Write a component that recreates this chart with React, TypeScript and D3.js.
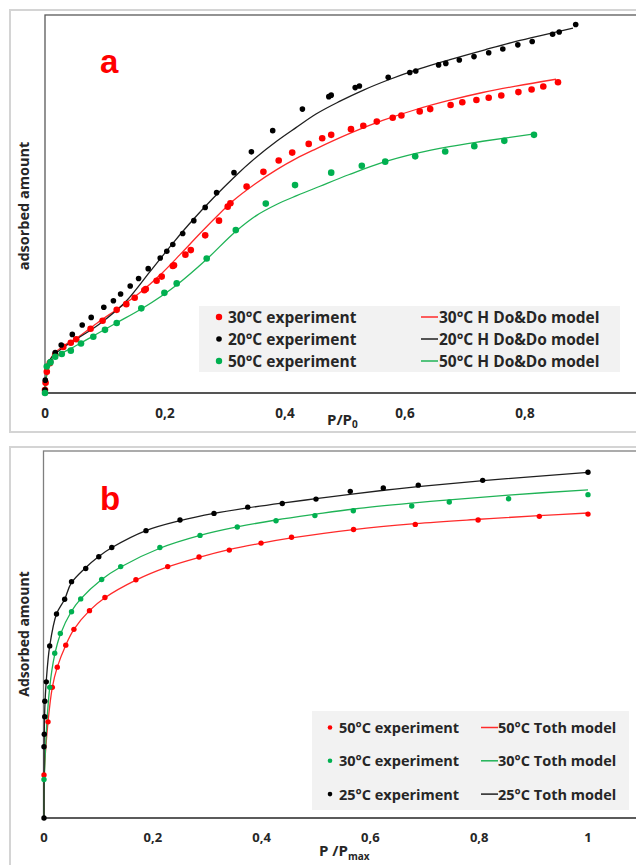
import React from 'react';
import * as d3 from 'd3';

type Pt = [number, number];

// ---------- Panel a data (P/P0 vs adsorbed amount, arbitrary units) ----------
const xTicksA = [0, 0.2, 0.4, 0.6, 0.8];

const exp30A: Pt[] = [
  [0, 0.08], [0.001, 0.27], [0.003, 0.56], [0.008, 0.79], [0.017, 1.01], [0.0305, 1.22],
  [0.043, 1.33], [0.052, 1.42], [0.076, 1.70], [0.096, 1.91], [0.1195, 2.20], [0.1355, 2.35],
  [0.1495, 2.52], [0.1655, 2.72], [0.168, 2.75], [0.186, 2.97], [0.1945, 3.08], [0.213, 3.36],
  [0.215, 3.38], [0.234, 3.66], [0.243, 3.78], [0.267, 4.17], [0.29, 4.56], [0.3045, 4.93],
  [0.309, 5.02], [0.336, 5.46], [0.364, 5.85], [0.3895, 6.15], [0.412, 6.36], [0.4395, 6.59],
  [0.462, 6.74], [0.477, 6.83], [0.51, 6.98], [0.5305, 7.07], [0.553, 7.18], [0.5795, 7.28],
  [0.594, 7.34], [0.6245, 7.45], [0.642, 7.51], [0.676, 7.62], [0.6955, 7.69], [0.719, 7.75],
  [0.7395, 7.81], [0.7605, 7.87], [0.789, 7.96], [0.811, 8.03], [0.8305, 8.11], [0.855, 8.22],
];

const exp20A: Pt[] = [
  [0, 0.08], [0.0005, 0.34], [0.0095, 0.83], [0.017, 1.07], [0.027, 1.27], [0.0455, 1.55],
  [0.062, 1.80], [0.077, 2.00], [0.098, 2.27], [0.114, 2.44], [0.126, 2.62], [0.142, 2.83],
  [0.156, 3.03], [0.172, 3.29], [0.192, 3.57], [0.203, 3.75], [0.213, 3.93], [0.2295, 4.22],
  [0.248, 4.56], [0.267, 4.91], [0.286, 5.30], [0.315, 5.83], [0.344, 6.38], [0.3795, 6.94],
  [0.429, 7.51], [0.473, 7.84], [0.477, 7.88], [0.517, 8.08], [0.524, 8.12], [0.572, 8.35],
  [0.608, 8.48], [0.618, 8.52], [0.656, 8.68], [0.668, 8.72], [0.6905, 8.81], [0.715, 8.90],
  [0.7395, 9.00], [0.763, 9.10], [0.788, 9.21], [0.812, 9.30], [0.846, 9.49], [0.857, 9.55],
  [0.8845, 9.75],
];

const exp50A: Pt[] = [
  [0, 0.0], [0.003, 0.70], [0.009, 0.81], [0.017, 0.96], [0.028, 1.03], [0.043, 1.12],
  [0.06, 1.31], [0.0805, 1.49], [0.1, 1.67], [0.1195, 1.85], [0.1605, 2.24], [0.199, 2.65],
  [0.2195, 2.90], [0.2695, 3.56], [0.318, 4.31], [0.368, 5.01], [0.4167, 5.50], [0.477, 5.83],
  [0.528, 6.01], [0.567, 6.12], [0.617, 6.26], [0.667, 6.39], [0.7155, 6.53], [0.7655, 6.67],
  [0.815, 6.83],
];

const model30A: Pt[] = [
  [0, 0.03], [0.003, 0.52], [0.008, 0.87], [0.025, 1.18], [0.053, 1.45], [0.086, 1.84],
  [0.125, 2.27], [0.158, 2.65], [0.1917, 3.12], [0.225, 3.66], [0.2583, 4.22], [0.2862, 4.67],
  [0.314, 5.09], [0.35, 5.53], [0.3862, 5.91], [0.4183, 6.2], [0.4517, 6.46], [0.51, 6.88],
  [0.5628, 7.21], [0.6183, 7.5], [0.6733, 7.74], [0.7295, 7.95], [0.785, 8.12], [0.8517, 8.3],
];

const model20A: Pt[] = [
  [0, 0.03], [0.003, 0.53], [0.008, 0.87], [0.025, 1.14], [0.053, 1.43], [0.092, 1.84],
  [0.136, 2.44], [0.175, 3.21], [0.214, 3.98], [0.247, 4.59], [0.2805, 5.16], [0.314, 5.69],
  [0.3517, 6.23], [0.386, 6.66], [0.4183, 7.02], [0.4517, 7.38], [0.4917, 7.72], [0.5317, 8.02],
  [0.5717, 8.28], [0.625, 8.58], [0.675, 8.82], [0.7333, 9.08], [0.785, 9.30], [0.8333, 9.48],
  [0.88, 9.65],
];

const model50A: Pt[] = [
  [0, 0.03], [0.003, 0.53], [0.008, 0.87], [0.028, 1.05], [0.0583, 1.31], [0.0805, 1.51],
  [0.1195, 1.86], [0.1612, 2.23], [0.2195, 2.86], [0.2695, 3.54], [0.3183, 4.28], [0.3528, 4.7],
  [0.385, 4.98], [0.4195, 5.22], [0.4583, 5.47], [0.5072, 5.78], [0.5628, 6.1], [0.6183, 6.34],
  [0.674, 6.52], [0.7295, 6.66], [0.8128, 6.85],
];

// ---------- Panel b data (P/Pmax vs adsorbed amount, arbitrary units) ----------
const xTicksB = [0, 0.2, 0.4, 0.6, 0.8, 1];

const exp50B: Pt[] = [
  [0, 1.17], [0.0074, 2.62], [0.0153, 3.56], [0.0244, 4.11], [0.04, 4.71], [0.055, 5.14],
  [0.0836, 5.65], [0.112, 6.01], [0.169, 6.49], [0.2274, 6.85], [0.285, 7.11], [0.3406, 7.30],
  [0.399, 7.49], [0.455, 7.65], [0.569, 7.86], [0.6825, 8.00], [0.798, 8.12], [0.9105, 8.22],
  [1.0, 8.28],
];

const exp30B: Pt[] = [
  [0, 1.05], [0.0105, 3.56], [0.0197, 4.49], [0.03, 5.03], [0.0506, 5.62], [0.0675, 5.97],
  [0.106, 6.50], [0.141, 6.85], [0.213, 7.37], [0.2868, 7.70], [0.3553, 7.93], [0.4265, 8.10],
  [0.498, 8.24], [0.5686, 8.37], [0.676, 8.50], [0.745, 8.61], [0.854, 8.70], [1.0, 8.81],
];

const exp25B: Pt[] = [
  [0, 0], [0.0, 1.94], [0.0005, 2.28], [0.0013, 2.76], [0.0015, 3.18], [0.0042, 3.71],
  [0.0105, 4.69], [0.023, 5.56], [0.038, 5.96], [0.0506, 6.44], [0.0767, 6.80], [0.1007, 7.12],
  [0.1246, 7.37], [0.1875, 7.83], [0.25, 8.12], [0.3125, 8.30], [0.3745, 8.47], [0.438, 8.57],
  [0.5, 8.69], [0.563, 8.90], [0.6237, 8.99], [0.688, 9.07], [0.8064, 9.20], [1.0, 9.42],
];

const model50B: Pt[] = [
  [0, 0], [0.0005, 1.2], [0.0074, 2.62], [0.0153, 3.56], [0.0244, 4.11], [0.04, 4.71],
  [0.055, 5.14], [0.0836, 5.65], [0.112, 6.0], [0.169, 6.48], [0.2274, 6.84], [0.285, 7.1],
  [0.34, 7.31], [0.4, 7.49], [0.455, 7.63], [0.569, 7.86], [0.6825, 8.02], [0.8, 8.14],
  [0.91, 8.24], [1.0, 8.31],
];

const model30B: Pt[] = [
  [0, 0], [0.0005, 1.05], [0.0105, 3.56], [0.0197, 4.45], [0.03, 5.0], [0.05, 5.62],
  [0.0675, 5.97], [0.106, 6.5], [0.141, 6.84], [0.213, 7.35], [0.287, 7.7], [0.355, 7.93],
  [0.4265, 8.12], [0.5, 8.28], [0.57, 8.42], [0.676, 8.58], [0.745, 8.67], [0.854, 8.8],
  [1.0, 8.94],
];

const model25B: Pt[] = [
  [0, 0], [0.0003, 2.0], [0.0015, 3.0], [0.004, 3.7], [0.0105, 4.69], [0.023, 5.56],
  [0.038, 5.96], [0.05, 6.4], [0.075, 6.8], [0.1, 7.12], [0.125, 7.37], [0.1875, 7.83],
  [0.25, 8.1], [0.3125, 8.3], [0.375, 8.45], [0.4375, 8.58], [0.5, 8.7], [0.5625, 8.82],
  [0.625, 8.93], [0.6875, 9.03], [0.8125, 9.2], [1.0, 9.42],
];

const RED = '#FF0000';
const BLACK = '#000000';
const GREEN = '#00B050';
const RED_L = '#FF2A2A';
const BLACK_L = '#1F1F1F';
const GREEN_L = '#1FB356';

const fmt = (d: number) => (d === 0 ? '0' : String(d).replace('.', ','));

export default function App() {
  const W = 636;
  const H = 865;
  const font = "'Open Sans', 'DejaVu Sans', sans-serif";
  const tick = '#262626';

  const xA = d3.scaleLinear().domain([0, 1]).range([45, 645]);
  const yA = d3.scaleLinear().domain([0, 10]).range([393, 15]);
  const xB = d3.scaleLinear().domain([0, 1]).range([44, 588]);
  const yB = d3.scaleLinear().domain([0, 10]).range([818, 451]);

  const lineA = d3.line<Pt>().x((d) => xA(d[0])).y((d) => yA(d[1])).curve(d3.curveMonotoneX);
  const lineB = d3.line<Pt>().x((d) => xB(d[0])).y((d) => yB(d[1])).curve(d3.curveCatmullRom.alpha(0.5));

  const legA = [
    { exp: '30°C experiment', mod: '30°C H Do&Do model', c: RED, lc: RED_L, r: 3.2 },
    { exp: '20°C experiment', mod: '20°C H Do&Do model', c: BLACK, lc: BLACK_L, r: 2.8 },
    { exp: '50°C experiment', mod: '50°C H Do&Do model', c: GREEN, lc: GREEN_L, r: 3.2 },
  ];
  const legB = [
    { exp: '50°C experiment', mod: '50°C Toth model', c: RED, lc: RED_L },
    { exp: '30°C experiment', mod: '30°C Toth model', c: GREEN, lc: GREEN_L },
    { exp: '25°C experiment', mod: '25°C Toth model', c: BLACK, lc: BLACK_L },
  ];

  return (
    <svg width={W} height={H} style={{ position: 'absolute', left: 0, top: 0, background: '#fff' }} fontFamily={font}>
      <rect x={0} y={0} width={W} height={H} fill="#fff" />

      {/* ================= Panel a ================= */}
      <rect x={10} y={10} width={700} height={422} fill="#fff" stroke="#D4D4D4" strokeWidth={2} />
      <rect x={45} y={15} width={700} height={378} fill="none" stroke="#595959" strokeWidth={1.3} />
      <line x1={45} x2={700} y1={393} y2={393} stroke="#404040" strokeWidth={1.5} />

      {xTicksA.map((t) => (
        <text key={'ta' + t} x={xA(t)} y={418} textAnchor="middle" fontSize={13.5} fontWeight={700} fill={tick}>
          {fmt(t)}
        </text>
      ))}
      <text x={327} y={425} fontSize={15} fontWeight={700} fill={tick}>
        P/P<tspan fontSize={10} dy={3}>0</tspan>
      </text>
      <text transform={`translate(29,206) rotate(-90)`} textAnchor="middle" fontSize={14.5} fontWeight={700} fill={tick}>
        adsorbed amount
      </text>
      <text x={100} y={73} fontSize={33} fontWeight={700} fill={RED} fontFamily="'Liberation Sans', Arial, sans-serif">
        a
      </text>

      <path d={lineA(model30A) || ''} fill="none" stroke={RED_L} strokeWidth={1.3} />
      <path d={lineA(model20A) || ''} fill="none" stroke={BLACK_L} strokeWidth={1.3} />
      <path d={lineA(model50A) || ''} fill="none" stroke={GREEN_L} strokeWidth={1.3} />
      {exp30A.map((d, i) => (
        <circle key={'r' + i} cx={xA(d[0])} cy={yA(d[1])} r={3.3} fill={RED} />
      ))}
      {exp20A.map((d, i) => (
        <circle key={'k' + i} cx={xA(d[0])} cy={yA(d[1])} r={2.8} fill={BLACK} />
      ))}
      {exp50A.map((d, i) => (
        <circle key={'g' + i} cx={xA(d[0])} cy={yA(d[1])} r={3.3} fill={GREEN} />
      ))}

      <rect x={199} y={306} width={421} height={66} fill="#F2F2F2" />
      {legA.map((l, i) => {
        const cy = 317 + i * 22;
        return (
          <g key={'la' + i}>
            <circle cx={219} cy={cy} r={l.r} fill={l.c} />
            <text x={228} y={cy + 6} fontSize={15.5} fontWeight={700} fill={tick}>
              {l.exp}
            </text>
            <line x1={421} x2={438} y1={cy} y2={cy} stroke={l.lc} strokeWidth={1.5} />
            <text x={439} y={cy + 6} fontSize={15.5} fontWeight={700} fill={tick}>
              {l.mod}
            </text>
          </g>
        );
      })}

      {/* ================= Panel b ================= */}
      <rect x={10} y={447} width={700} height={440} fill="#fff" stroke="#D4D4D4" strokeWidth={2} />
      <rect x={43.5} y={451} width={700} height={367} fill="none" stroke="#7F7F7F" strokeWidth={1.3} />
      <line x1={43.5} x2={700} y1={818} y2={818} stroke="#404040" strokeWidth={1.5} />

      {xTicksB.map((t) => (
        <text key={'tb' + t} x={xB(t)} y={842} textAnchor="middle" fontSize={13} fontWeight={700} fill={tick}>
          {fmt(t)}
        </text>
      ))}
      <text x={319} y={856} fontSize={15} fontWeight={700} fill={tick}>
        P /P<tspan fontSize={10} dy={4}>max</tspan>
      </text>
      <text transform={`translate(29,634) rotate(-90)`} textAnchor="middle" fontSize={14} fontWeight={700} fill={tick}>
        Adsorbed amount
      </text>
      <text x={100} y={510} fontSize={33} fontWeight={700} fill={RED} fontFamily="'Liberation Sans', Arial, sans-serif">
        b
      </text>

      <path d={lineB(model50B) || ''} fill="none" stroke={RED_L} strokeWidth={1.3} />
      <path d={lineB(model30B) || ''} fill="none" stroke={GREEN_L} strokeWidth={1.3} />
      <path d={lineB(model25B) || ''} fill="none" stroke={BLACK_L} strokeWidth={1.3} />
      {exp50B.map((d, i) => (
        <circle key={'br' + i} cx={xB(d[0])} cy={yB(d[1])} r={2.7} fill={RED} />
      ))}
      {exp30B.map((d, i) => (
        <circle key={'bg' + i} cx={xB(d[0])} cy={yB(d[1])} r={2.7} fill={GREEN} />
      ))}
      {exp25B.map((d, i) => (
        <circle key={'bk' + i} cx={xB(d[0])} cy={yB(d[1])} r={2.7} fill={BLACK} />
      ))}

      <rect x={312} y={711} width={317} height={99} fill="#F2F2F2" />
      {legB.map((l, i) => {
        const cy = 727.5 + i * 33.3;
        return (
          <g key={'lb' + i}>
            <circle cx={330} cy={cy} r={2.3} fill={l.c} />
            <text x={339} y={cy + 5.5} fontSize={14.5} fontWeight={700} fill={tick}>
              {l.exp}
            </text>
            <line x1={481} x2={498} y1={cy} y2={cy} stroke={l.lc} strokeWidth={1.5} />
            <text x={498} y={cy + 5.5} fontSize={14.5} fontWeight={700} fill={tick}>
              {l.mod}
            </text>
          </g>
        );
      })}
    </svg>
  );
}
